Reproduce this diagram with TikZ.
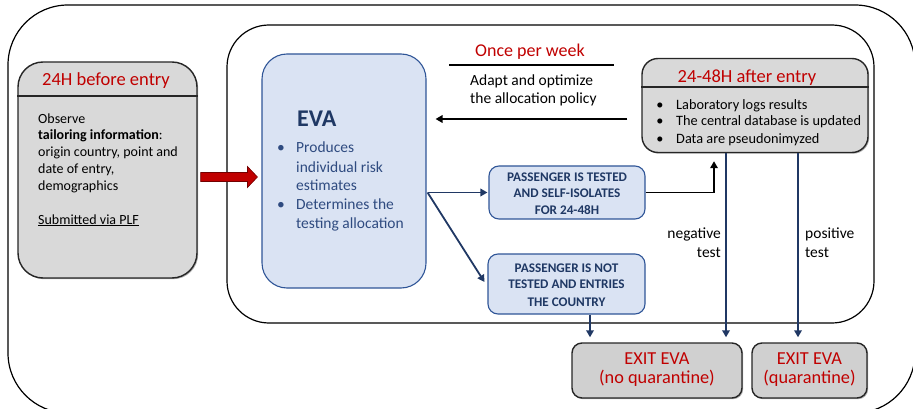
\documentclass[tikz,border=0pt]{standalone}
\usepackage{fontspec}
\setmainfont{Carlito}
\usetikzlibrary{arrows.meta,shadows,calc}
\definecolor{evred}{HTML}{C00000}
\definecolor{evgray}{HTML}{D9D9D9}
\definecolor{exgray}{HTML}{D0D0D0}
\definecolor{evfill}{HTML}{DAE3F3}
\definecolor{evborder}{HTML}{2F5597}
\definecolor{evnavy}{HTML}{1F3864}
\definecolor{evtext}{HTML}{2F4B80}
\definecolor{arrowblue}{HTML}{203864}
\begin{document}
\begin{tikzpicture}[x=1pt,y=-1pt,
  frame/.style={draw=black, line width=1.2pt, inner sep=0pt},
  graybox/.style={draw=black!85, line width=1.4pt, fill=evgray, inner sep=0pt,
    drop shadow={shadow xshift=1.2pt, shadow yshift=-1.2pt, opacity=0.3, fill=black}},
  exbox/.style={graybox, fill=exgray, rounded corners=10pt},
  bluebox/.style={draw=evborder, line width=1.1pt, fill=evfill, inner sep=0pt},
  lbl/.style={inner sep=0pt, anchor=base west},
  lblc/.style={inner sep=0pt, anchor=base},
  lble/.style={inner sep=0pt, anchor=base east},
  body/.style={font=\fontsize{14}{17}\selectfont},
  mid/.style={font=\fontsize{15.5}{18}\selectfont},
  small/.style={font=\fontsize{14.3}{16}\selectfont},
  title/.style={font=\fontsize{18.5}{20}\selectfont, text=evred},
  caps/.style={inner sep=0pt, anchor=base, font=\bfseries\fontsize{13.2}{16}\selectfont, text=evnavy},
  evb/.style={inner sep=0pt, anchor=base west, font=\fontsize{15.5}{18}\selectfont, text=evtext},
  bluearrow/.style={draw=arrowblue, line width=1.8pt, -{Triangle[length=7pt,width=7.5pt]}},
  blackarrow/.style={draw=black, line width=1.8pt, -{Triangle[length=7pt,width=7.5pt]}}
]
\useasboundingbox (0,0) rectangle (913,409);

% frames
\node[frame, rounded corners=60pt, minimum width=907pt, minimum height=408pt] (outer) at (461.5,209) {};
\node[frame, rounded corners=42pt, minimum width=647pt, minimum height=298pt] (inner) at (550.5,174) {};

% left box
\node[graybox, rounded corners=25pt, minimum width=179pt, minimum height=216pt] (before) at (107.5,170) {};
\draw[line width=1.2pt, draw=black!85] (before.west |- 0,96) -- (before.east |- 0,96);
\node[lblc, title] (beforetitle) at (106,86) {24H before entry};
\node[lbl, body] (b1) at (38,124) {Observe};
\node[lbl, body] (b2) at (38,140) {\textbf{tailoring information}:};
\node[lbl, body] (b3) at (38,157) {origin country, point and};
\node[lbl, body] (b4) at (38,174) {date of entry,};
\node[lbl, body] (b5) at (38,190) {demographics};
\node[lbl, body] (b6) at (38,224) {\underline{Submitted via PLF}};

% EVA box
\node[bluebox, rounded corners=25pt, minimum width=164pt, minimum height=234pt] (eva) at (344,171) {};
\node[lbl, font=\bfseries\fontsize{24}{26}\selectfont, text=evnavy] (evat) at (297,127) {EVA};
\node[lblc, font=\fontsize{15.5}{18}\selectfont, text=evtext] (eb1) at (281,153) {•};
\node[evb] (e1) at (296,153) {Produces};
\node[evb] (e2) at (296,172) {individual risk};
\node[evb] (e3) at (296,190) {estimates};
\node[lblc, font=\fontsize{15.5}{18}\selectfont, text=evtext] (eb2) at (281,209) {•};
\node[evb] (e4) at (296,209) {Determines the};
\node[evb] (e5) at (296,228) {testing allocation};

% red block arrow
\coordinate (ra1) at ($(before.east |- 0,177)+(3,0)$);
\coordinate (ra2) at ($(eva.west |- 0,177)+(-4,0)$);
\path[fill=evred, draw=evred!60!black, line width=0.6pt]
  ($(ra1)+(0,-4.5)$) -- ($(ra2)+(-10,-4.5)$) -- ($(ra2)+(-10,-10.5)$) -- (ra2)
  -- ($(ra2)+(-10,10.5)$) -- ($(ra2)+(-10,4.5)$) -- ($(ra1)+(0,4.5)$) -- cycle;

% once per week
\node[lblc, font=\fontsize{18}{20}\selectfont, text=evred] (once) at (530,57) {Once per week};
\draw[line width=1.3pt] (449,65) -- (614,65);
\node[lbl, mid] (ad1) at (470,86) {Adapt and optimize};
\node[lbl, mid] (ad2) at (470,104) {the allocation policy};

% after entry box
\node[graybox, rounded corners=16pt, minimum width=226pt, minimum height=94pt] (after) at (755,105.5) {};
\draw[line width=1.2pt, draw=black!85] (after.west |- 0,87) -- (after.east |- 0,87);
\node[lblc, title] (aftertitle) at (747,83) {24-48H after entry};
\node[lblc, small] (ab1) at (660,110) {•};
\node[lbl, small] (a1) at (676,110) {Laboratory logs results};
\node[lblc, small] (ab2) at (660,126) {•};
\node[lbl, small] (a2) at (676,126) {The central database is updated};
\node[lblc, small] (ab3) at (660,143) {•};
\node[lbl, small] (a3) at (676,143) {Data are pseudonimyzed};

% arrow back to EVA
\coordinate (backstart) at ($(after.west |- 0,119)+(-14,0)$);
\coordinate (backend) at ($(eva.east |- 0,119)+(9,0)$);
\draw[blackarrow] (backstart) -- (backend);

% passenger boxes
\node[bluebox, rounded corners=10pt, minimum width=156pt, minimum height=53pt] (tested) at (567,192.5) {};
\node[caps] (t1) at (567,181) {PASSENGER IS TESTED};
\node[caps] (t2) at (567,197) {AND SELF-ISOLATES};
\node[caps] (t3) at (567,214) {FOR 24-48H};
\node[bluebox, rounded corners=10pt, minimum width=157pt, minimum height=60pt] (nottested) at (566.5,284) {};
\node[caps] (n1) at (566.5,272) {PASSENGER IS NOT};
\node[caps] (n2) at (566.5,288) {TESTED AND ENTRIES};
\node[caps] (n3) at (566.5,306) {THE COUNTRY};

% exit boxes
\node[exbox, minimum width=170pt, minimum height=55pt] (exitno) at (657,370.5) {};
\node[lblc, title, font=\fontsize{18.3}{20}\selectfont] (x1) at (657,364) {EXIT EVA};
\node[lblc, title, font=\fontsize{18.3}{20}\selectfont] (x2) at (657,383) {(no quarantine)};
\node[exbox, minimum width=115pt, minimum height=55pt] (exitq) at (809.5,370.5) {};
\node[lblc, title, font=\fontsize{18.3}{20}\selectfont] (x3) at (809.5,364) {EXIT EVA};
\node[lblc, title, font=\fontsize{18.3}{20}\selectfont] (x4) at (809.5,383) {(quarantine)};

% connectors
\coordinate (evout) at ($(eva.east |- tested.west)+(1,0)$);
\draw[bluearrow] (evout) -- ($(tested.west)+(-1,0)$);
\draw[bluearrow] (evout) -- ($(nottested.west)+(-3,-2)$);

\coordinate (upx) at (714,0);
\draw[blackarrow] (tested.east) -| ($(after.south -| upx)+(0,8)$);

\coordinate (ntx) at (590,0);
\coordinate (negx) at (726,0);
\coordinate (posx) at (798,0);
\draw[bluearrow] (nottested.south -| ntx) -- ($(exitno.north -| ntx)+(0,-5)$);
\draw[bluearrow] (after.south -| negx) -- ($(exitno.north -| negx)+(0,-5)$);
\draw[bluearrow] (after.south -| posx) -- ($(exitq.north -| posx)+(0,-5)$);

\node[lble, mid] (neg1) at (721,238) {negative};
\node[lble, mid] (neg2) at (721,257) {test};
\node[lbl, mid] (pos1) at (805,238) {positive};
\node[lbl, mid] (pos2) at (805,257) {test};
\end{tikzpicture}
\end{document}
